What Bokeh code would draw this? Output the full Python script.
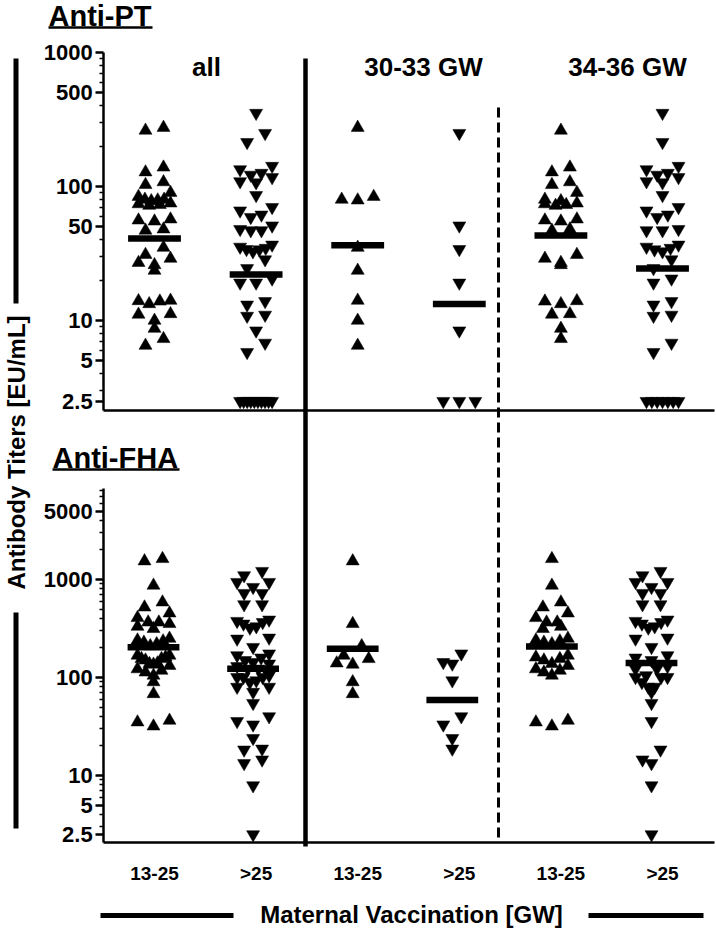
import numpy as np
from bokeh.plotting import figure
from bokeh.models import (Range1d, LogScale, LogAxis, LinearAxis, FixedTicker,
                          NumeralTickFormatter)
from bokeh.core.properties import value
from bokeh.embed import file_html
from bokeh.resources import INLINE

# ---------------- data ----------------
panel_titles = ["Anti-PT", "Anti-FHA"]
group_labels = ["all", "30-33 GW", "34-36 GW"]
x_labels = ["13-25", ">25", "13-25", ">25", "13-25", ">25"]
y_title = "Antibody Titers [EU/mL]"
x_title = "Maternal Vaccination [GW]"

# Anti-PT  [EU/mL]
pt_3033_early = [275, 84, 80, 79, 35, 23.6, 14.1, 10.0, 6.5]
pt_3033_late = [250, 51, 34, 19.1, 8.4, 2.5, 2.5, 2.5]
pt_3436_early = [262, 139, 128, 108, 103, 90, 80, 78, 75, 74, 73, 72, 57, 56, 55,
                 48, 47, 31, 29, 27, 26, 14, 13.9, 13.3, 11.2, 11.1, 8.7, 7.3]
pt_3436_late = [353, 214, 142, 134, 126, 122, 117, 109, 107, 86, 70, 66, 61.5, 59,
                48, 47, 47, 36.7, 35.4, 34.7, 33.8, 32.7, 28.5, 24.5, 20.5, 19.1,
                13.9, 13.1, 11.0, 10.8, 6.8, 5.8, 2.5, 2.5, 2.5, 2.5, 2.5, 2.5, 2.5]
# geometric mean bars (all 13-25, all >25, 30-33 13-25, 30-33 >25, 34-36 13-25, 34-36 >25)
pt_gmc = [41, 22, 36.4, 13.3, 43, 24.4]

# Anti-FHA [EU/mL]
fha_3033_early = [1540, 353, 210, 168, 155, 140, 136, 90, 68]
fha_3033_late = [175, 143, 138, 93, 40, 33, 24, 18.7]
fha_3436_early = [1625, 870, 586, 521, 453, 406, 366, 366, 331, 314, 250, 240, 235,
                  228, 220, 168, 161, 155, 150, 138, 132, 122, 118, 113, 105,
                  36.4, 35, 31.8]
fha_3436_late = [1216, 1099, 939, 939, 835, 725, 725, 556, 556, 388, 376, 366, 353,
                 331, 321, 254, 248, 204, 168, 159, 150, 130, 122.5, 122.5, 105,
                 100.7, 100.7, 100.7, 89.6, 80, 80, 71, 54.7, 35.8, 18.3, 14.5,
                 13.3, 7.9, 2.5]
fha_gmc = [204, 122.5, 196, 59, 207, 141]

pt_ticks = [2.5, 5, 10, 50, 100, 500, 1000]
pt_minor = [3, 4, 6, 7, 8, 9, 20, 30, 40, 60, 70, 80, 90, 200, 300, 400,
            600, 700, 800, 900]
fha_ticks = [2.5, 5, 10, 100, 1000, 5000]
fha_minor = [3, 4, 6, 7, 8, 9, 20, 30, 40, 50, 60, 70, 80, 90, 200, 300, 400,
             500, 600, 700, 800, 900, 2000, 3000, 4000, 6000, 7000, 8000]

# ---------------- layout (page pixels) ----------------
W, H, M = 716, 930, 0
TOP_Y1000, TOP_DEC = 52.0, 134.0
BOT_Y1000, BOT_DEC = 579.0, 98.0
TOP_X0, TOP_DX = 154.0, 101.6
BOT_X0, BOT_DX = 153.0, 99.6


def XT(px):
    return (px - TOP_X0) / TOP_DX


def XB(px):
    return (px - BOT_X0) / BOT_DX


def YT(py):
    return 10 ** (3 + (TOP_Y1000 - py) / TOP_DEC)


def YB(py):
    return 10 ** (3 + (BOT_Y1000 - py) / BOT_DEC)


def swarm(center, vals, ppx, ppd, step=18.0, span=32.0, thr=10.0):
    vals = np.asarray(vals, float)
    ypx = -np.log10(vals) * ppd
    order = np.argsort(ypx, kind="stable")
    off = np.zeros(len(vals))
    rows, cur = [], [order[0]]
    for idx in order[1:]:
        if ypx[idx] - ypx[cur[0]] < thr:
            cur.append(idx)
        else:
            rows.append(cur)
            cur = [idx]
    rows.append(cur)
    for row in rows:
        n = len(row)
        if n == 1:
            continue
        s = min(step, span / (n - 1))
        slots = [(k - (n - 1) / 2) * s for k in range(n)]
        by_val = sorted(row, key=lambda i: vals[i], reverse=True)
        slot_order = sorted(range(n), key=lambda k: (-abs(slots[k]), -slots[k]))
        for i, k in zip(by_val, slot_order):
            off[i] = slots[k] / ppx
    return list(center + off)


FONT = value("Liberation Sans")

p = figure(width=W, height=H, output_backend="svg", toolbar_location=None,
           x_range=Range1d(XT(M), XT(M + W)), y_range=Range1d(YT(M + H), YT(M)),
           y_axis_type="log", x_axis_location=None, y_axis_location=None,
           min_border=0, outline_line_color=None)
p.extra_x_ranges = {"xb": Range1d(XB(M), XB(M + W))}
p.extra_y_ranges = {"yb": Range1d(YB(M + H), YB(M))}
p.extra_y_scales = {"yb": LogScale()}
p.grid.visible = False


def style_y(ax):
    ax.axis_line_width = 2.5
    ax.major_tick_line_width = 2.5
    ax.major_tick_out = 8
    ax.major_tick_in = 0
    ax.minor_tick_line_width = 1.5
    ax.minor_tick_out = 4
    ax.minor_tick_in = 0
    ax.major_label_text_font = "Liberation Sans"
    ax.major_label_text_font_style = "bold"
    ax.major_label_text_font_size = "22px"
    ax.major_label_text_color = "black"
    ax.major_label_standoff = 3


ax_pt = LogAxis(fixed_location=-0.5, bounds=(YT(410), 1000),
                ticker=FixedTicker(ticks=pt_ticks, minor_ticks=pt_minor),
                formatter=NumeralTickFormatter(format="0.[0]"))
style_y(ax_pt)
ax_fha = LogAxis(x_range_name="xb", y_range_name="yb", fixed_location=-0.5,
                 bounds=(YB(842), 8500),
                 ticker=FixedTicker(ticks=fha_ticks, minor_ticks=fha_minor),
                 formatter=NumeralTickFormatter(format="0.[0]"))
style_y(ax_fha)
p.add_layout(ax_pt, "left")
p.add_layout(ax_fha, "left")

ax_xt = LinearAxis(fixed_location=YT(410), bounds=(-0.5, XT(714)),
                   ticker=FixedTicker(ticks=[]), axis_line_width=2.5,
                   major_tick_line_color=None, minor_tick_line_color=None)
ax_xb = LinearAxis(y_range_name="yb", fixed_location=YB(842), bounds=(-0.5, XT(714)),
                   ticker=FixedTicker(ticks=list(range(len(x_labels)))),
                   major_label_overrides={i: t for i, t in enumerate(x_labels)},
                   axis_line_width=2.5, major_tick_line_color=None,
                   minor_tick_line_color=None, major_tick_out=0,
                   major_label_standoff=20,
                   major_label_text_font="Liberation Sans",
                   major_label_text_font_style="bold",
                   major_label_text_font_size="19px",
                   major_label_text_color="black")
p.add_layout(ax_xt, "below")
p.add_layout(ax_xb, "below")

# ---------------- points ----------------
panels = [
    ([pt_3033_early + pt_3436_early, pt_3033_late + pt_3436_late,
      pt_3033_early, pt_3033_late, pt_3436_early, pt_3436_late], pt_gmc,
     TOP_DX, TOP_DEC, {}),
    ([fha_3033_early + fha_3436_early, fha_3033_late + fha_3436_late,
      fha_3033_early, fha_3033_late, fha_3436_early, fha_3436_late], fha_gmc,
     BOT_DX, BOT_DEC, {"x_range_name": "xb", "y_range_name": "yb"}),
]
for cols, gmc, ppx, ppd, rk in panels:
    ex, ey, lx, ly = [], [], [], []
    for i, vals in enumerate(cols):
        xs = swarm(i, vals, ppx, ppd)
        if i % 2 == 0:
            ex += xs
            ey += list(vals)
        else:
            lx += xs
            ly += list(vals)
    p.scatter(x=ex, y=ey, marker="triangle", size=13, fill_color="black",
              line_color="black", line_width=0.5, **rk)
    p.scatter(x=lx, y=ly, marker="inverted_triangle", size=13, fill_color="black",
              line_color="black", line_width=0.5, **rk)
    idx = np.arange(len(gmc))
    p.segment(x0=list(idx - 0.26), x1=list(idx + 0.26), y0=gmc, y1=gmc,
              line_width=6.5, line_color="black", line_cap="butt", **rk)

# ---------------- dividers and decorations ----------------
p.segment(x0=[XT(305)], x1=[XT(305)], y0=[YT(58)], y1=[YT(846)],
          line_width=4.5, line_color="black", line_cap="butt")
p.segment(x0=[XT(498)], x1=[XT(498)], y0=[YT(107)], y1=[YT(842)],
          line_width=3, line_color="black", line_dash="10 5", line_cap="butt")
# bars beside the axis titles
p.segment(x0=[XT(15.5), XT(15.5)], x1=[XT(15.5), XT(15.5)],
          y0=[YT(58), YT(612)], y1=[YT(303), YT(828)],
          line_width=5, line_color="black", line_cap="butt")
p.segment(x0=[XT(100), XT(588)], x1=[XT(233), XT(703)],
          y0=[YT(915), YT(915)], y1=[YT(915), YT(915)],
          line_width=5, line_color="black", line_cap="butt")
# panel titles with underline
p.text(x=[XT(48), XT(52)], y=[YT(15), YT(457)], text=panel_titles,
       text_font=FONT, text_font_style="bold", text_font_size="29px",
       text_align="left", text_baseline="middle", text_color="black")
p.segment(x0=[XT(48), XT(52)], x1=[XT(152), XT(179)],
          y0=[YT(27), YT(469)], y1=[YT(27), YT(469)],
          line_width=2.5, line_color="black", line_cap="butt")
# group headers
p.text(x=[XT(206), XT(423), XT(627)], y=[YT(66)] * 3, text=group_labels,
       text_font=FONT, text_font_style="bold", text_font_size="26px",
       text_align="center", text_baseline="middle", text_color="black")
# axis titles
p.text(x=[XT(16)], y=[YT(452)], text=[y_title], angle=np.pi / 2,
       text_font=FONT, text_font_style="bold", text_font_size="24px",
       text_align="center", text_baseline="middle", text_color="black")
p.text(x=[XT(411)], y=[YT(914)], text=[x_title],
       text_font=FONT, text_font_style="bold", text_font_size="24px",
       text_align="center", text_baseline="middle", text_color="black")

open("out.html", "w").write(file_html(p, INLINE))
